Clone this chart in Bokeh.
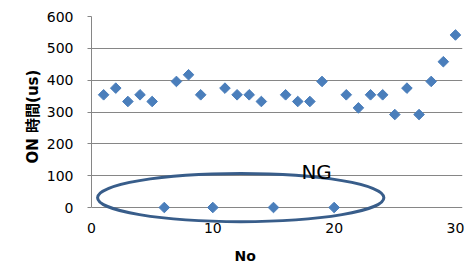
import math
from bokeh.plotting import figure
from bokeh.models import Range1d, FixedTicker, Label, Title
from bokeh.embed import file_html
from bokeh.resources import INLINE

# data
no = list(range(1, 31))
on_time = [354, 375, 333, 354, 333, 0, 396, 417, 354, 0,
           375, 354, 354, 333, 0, 354, 333, 333, 396, 0,
           354, 313, 354, 354, 292, 375, 292, 396, 458, 542]
y_ticks = [0, 100, 200, 300, 400, 500, 600]
x_ticks = [0, 10, 20, 30]

# NG annotation (ellipse around the zero readings)
ng_center_x = [12.3]
ng_center_y = [31]
ng_width = [23.6]
ng_height = [151]

FONT = "DejaVu Sans, Noto Sans CJK JP"
GRAY = "#868686"

p = figure(width=472, height=274, output_backend="svg", toolbar_location=None,
           x_range=Range1d(0, 30.58), y_range=Range1d(-53.4, 600),
           min_border_left=91, min_border_right=10, min_border_top=16,
           min_border_bottom=50)
p.outline_line_color = None
p.background_fill_color = "white"
p.border_fill_color = "white"

p.xaxis.ticker = FixedTicker(ticks=x_ticks)
p.yaxis.ticker = FixedTicker(ticks=y_ticks)
p.xgrid.visible = False
p.ygrid.grid_line_color = GRAY
p.ygrid.grid_line_width = 1

p.yaxis.bounds = (0, 600)
p.yaxis.axis_line_color = GRAY
p.yaxis.major_tick_line_color = GRAY
p.yaxis.major_tick_out = 4
p.yaxis.major_tick_in = 0
p.yaxis.minor_tick_line_color = None
p.yaxis.major_label_standoff = 14
p.yaxis.major_label_text_font = FONT
p.yaxis.major_label_text_font_size = "14px"
p.yaxis.major_label_text_color = "black"

p.xaxis.axis_line_color = None
p.xaxis.major_tick_line_color = None
p.xaxis.minor_tick_line_color = None
p.xaxis.major_tick_out = 0
p.xaxis.major_tick_in = 0
p.xaxis.major_label_standoff = -2
p.xaxis.major_label_text_font = FONT
p.xaxis.major_label_text_font_size = "14px"
p.xaxis.major_label_text_color = "black"

p.scatter(no, on_time, marker="square", angle=math.pi / 4, size=7.5,
          fill_color="#4a7ebb", line_color="#4a7ebb")

p.ellipse(x=ng_center_x, y=ng_center_y, width=ng_width, height=ng_height,
          fill_color=None, line_color="#385d8a", line_width=3)

p.add_layout(Label(x=17.3, y=110, text="NG", text_font=FONT,
                   text_font_size="20px", text_color="black",
                   text_baseline="alphabetic", text_align="left"))

p.add_layout(Title(text="No", align="left", offset=143, text_font=FONT,
                   text_font_size="14px", text_font_style="bold",
                   text_color="black", standoff=20), "below")

p.add_layout(Title(text="ON 時間(us)", align="left", offset=61,
                   text_font=FONT, text_font_size="15px",
                   text_font_style="bold", text_color="black",
                   standoff=4), "left")

open("out.html", "w").write(file_html(p, INLINE))
